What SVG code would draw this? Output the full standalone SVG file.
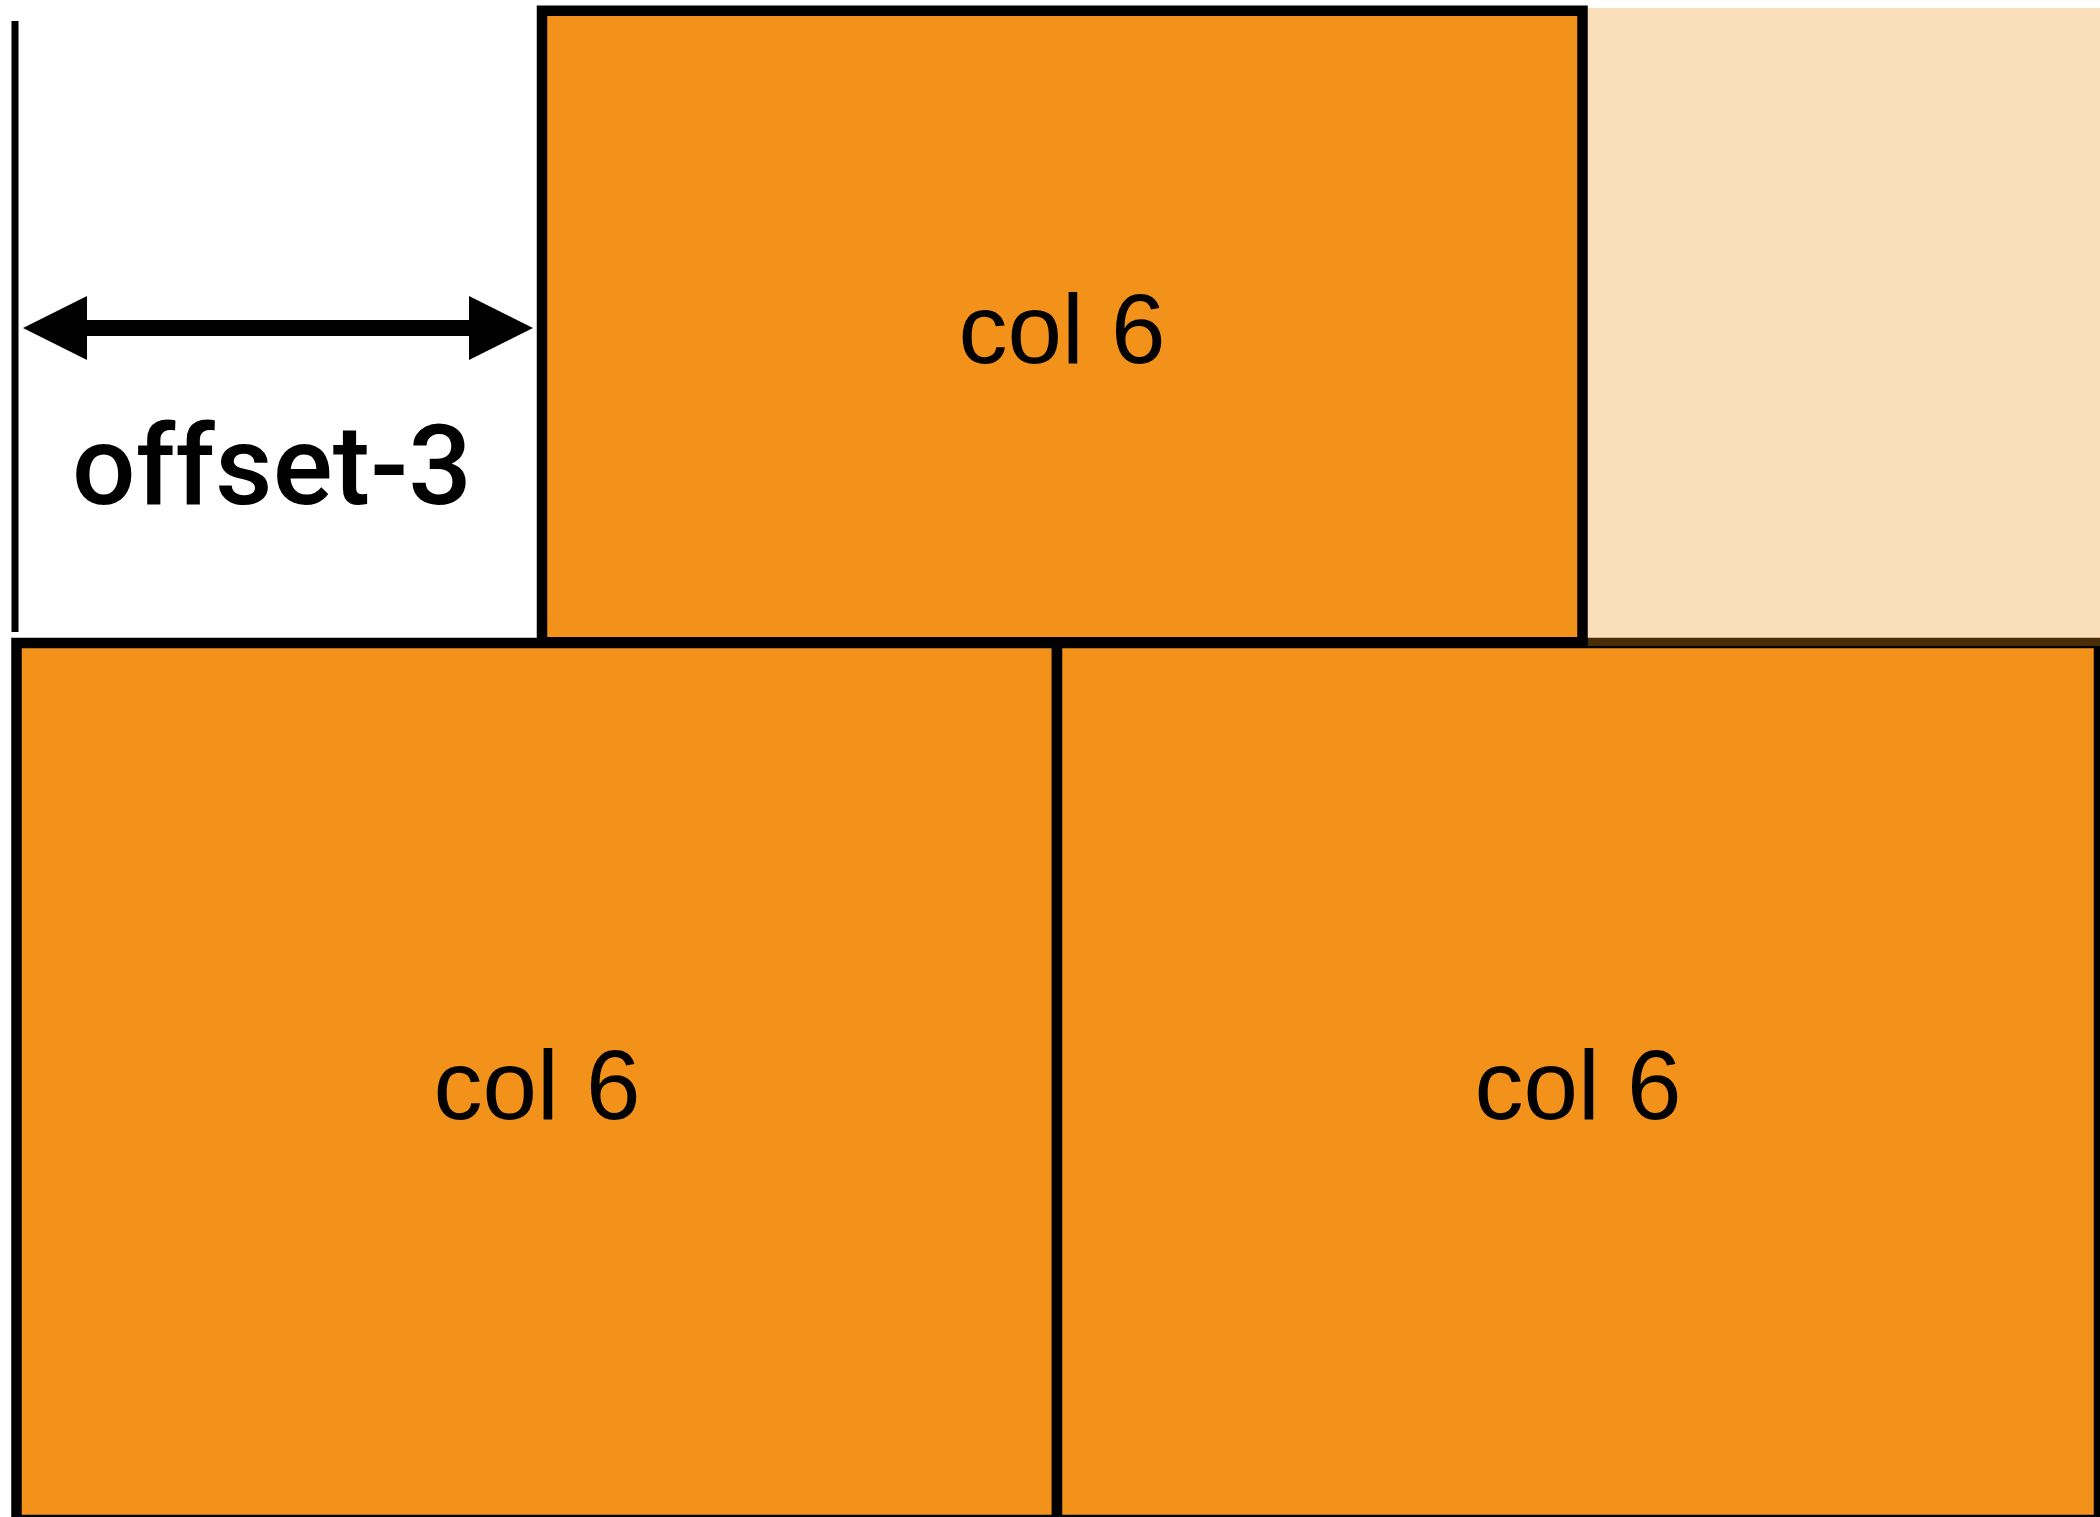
<svg xmlns="http://www.w3.org/2000/svg" width="2100" height="1517" viewBox="0 0 2100 1517">
  <style>
    .col { fill: #F3921A; stroke: #000000; stroke-width: 10.5; }
    .ghost { fill: #F3921A; fill-opacity: 0.3; stroke: none; }
    .lbl { font-family: "Liberation Sans", Arial, Helvetica, sans-serif; font-size: 98px; fill: #000000; text-anchor: middle; }
    .off { font-family: Roboto, "Liberation Sans", Arial, sans-serif; font-size: 112px; font-weight: 500; fill: #000000; }
  </style>
  <defs>
    <marker id="head" markerUnits="userSpaceOnUse" markerWidth="64" markerHeight="64" viewBox="0 0 64 64" refX="1" refY="32" orient="auto-start-reverse">
      <path d="M0,0 L64,32 L0,64 Z" fill="#000000"/>
    </marker>
  </defs>
  <rect width="2100" height="1517" fill="#FFFFFF"/>

  <g id="col-bottom-left">
    <rect class="col" x="16.5" y="643" width="1040.5" height="877"/>
    <text class="lbl" x="537" y="1119">col 6</text>
  </g>
  <g id="col-bottom-right">
    <rect class="col" x="1057" y="643" width="1042" height="877"/>
    <text class="lbl" x="1578" y="1119">col 6</text>
  </g>
  <g id="ghost-area">
    <rect class="ghost" x="1582" y="8" width="530" height="638"/>
  </g>
  <g id="col-top">
    <rect class="col" x="542" y="10.75" width="1040.5" height="631.5"/>
    <text class="lbl" x="1062" y="363">col 6</text>
  </g>

  <g id="connectors">
    <line x1="15" y1="21" x2="15" y2="632" stroke="#000000" stroke-width="7"/>
    <line x1="86" y1="328" x2="470" y2="328" stroke="#000000" stroke-width="16" marker-start="url(#head)" marker-end="url(#head)"/>
  </g>
  <g id="offset-label">
    <text class="off" x="72" y="504" textLength="400" lengthAdjust="spacing">offset-3</text>
  </g>
</svg>
